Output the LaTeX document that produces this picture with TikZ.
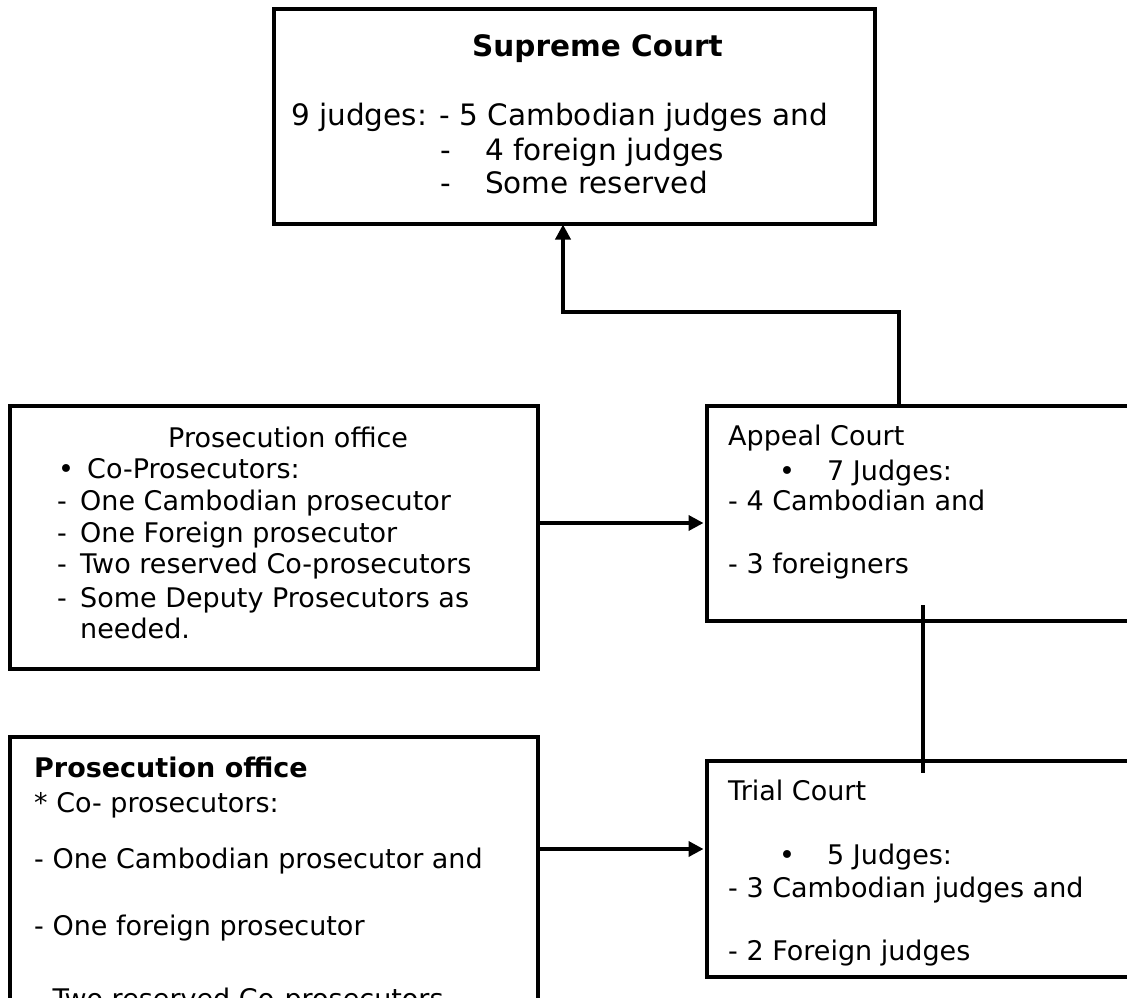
\documentclass[tikz,border=0pt]{standalone}
\usepackage{fontspec}
\setmainfont{DejaVu Sans}
\usetikzlibrary{arrows.meta}
\begin{document}
\begin{tikzpicture}[x=1pt,y=-1pt,
  box/.style={draw=black,line width=4pt,fill=none,inner sep=0pt},
  conn/.style={draw=black,line width=3.6pt},
  arr/.style={conn,-{Triangle[length=15pt,width=15pt]}},
  txt/.style={anchor=base west,inner sep=0pt,font=\fontsize{27}{32}\selectfont},
  btxt/.style={txt,font=\fontsize{27}{32}\selectfont\bfseries},
  stxt/.style={txt,font=\fontsize{29.5}{34}\selectfont},
  sbtxt/.style={txt,font=\fontsize{29.5}{34}\selectfont\bfseries}]
\useasboundingbox (0,0) rectangle (1127,998);
\clip (0,0) rectangle (1127,998);
\fill[white] (0,0) rectangle (1127,998);
% boxes
\node[box,minimum width=601pt,minimum height=215pt] (supreme) at (574.5,116.5) {};
\node[box,minimum width=528pt,minimum height=263pt] (pros1) at (274,537.5) {};
\node[box,minimum width=453pt,minimum height=215pt] (appeal) at (933.5,513.5) {};
\node[box,minimum width=453pt,minimum height=216pt] (trial) at (933.5,869) {};
\node[box,minimum width=528pt,minimum height=293pt] (pros2) at (274,883.5) {};
% supreme text
\node[sbtxt] (s0) at (472,57) {Supreme Court};
\node[stxt] (s1) at (291,125) {9 judges: - 5 Cambodian judges and};
\node[stxt] (s2d) at (440,160) {-};
\node[stxt] (s2) at (485,160) {4 foreign judges};
\node[stxt] (s3d) at (440,193) {-};
\node[stxt] (s3) at (485,193) {Some reserved};
% prosecution 1
\node[txt] (p0) at (168,447) {Prosecution office};
\node[txt] (p1b) at (58,478) {•};
\node[txt] (p1) at (87,478) {Co-Prosecutors:};
\node[txt] (p2d) at (57,510) {-};
\node[txt] (p2) at (80,510) {One Cambodian prosecutor};
\node[txt] (p3d) at (57,542) {-};
\node[txt] (p3) at (80,542) {One Foreign prosecutor};
\node[txt] (p4d) at (57,573) {-};
\node[txt] (p4) at (80,573) {Two reserved Co-prosecutors};
\node[txt] (p5d) at (57,607) {-};
\node[txt] (p5) at (80,607) {Some Deputy Prosecutors as};
\node[txt] (p6) at (80,638) {needed.};
% appeal
\node[txt] (a0) at (728,445) {Appeal Court};
\node[txt] (a1b) at (779,480) {•};
\node[txt] (a1) at (827,480) {7 Judges:};
\node[txt] (a2) at (728,510) {- 4 Cambodian and};
\node[txt] (a3) at (728,573) {- 3 foreigners};
% trial
\node[txt] (t0) at (728,800) {Trial Court};
\node[txt] (t1b) at (779,864) {•};
\node[txt] (t1) at (827,864) {5 Judges:};
\node[txt] (t2) at (728,897) {- 3 Cambodian judges and};
\node[txt] (t3) at (728,960) {- 2 Foreign judges};
% prosecution 2
\node[btxt] (q0) at (34,777) {Prosecution office};
\node[txt] (q1) at (34,812) {* Co- prosecutors:};
\node[txt] (q2) at (34,868) {- One Cambodian prosecutor and};
\node[txt] (q3) at (34,935) {- One foreign prosecutor};
\node[txt] (q4) at (34,1008) {- Two reserved Co-prosecutors};
% connectors
\coordinate (bendA) at (899,312);
\coordinate (bendB) at (563,312);
\draw[arr] (appeal.north -| bendA) -- (bendA) -- (bendB) -- ([yshift=1.5pt]supreme.south -| bendB);
\coordinate (y1) at (600,523);
\draw[arr] (pros1.east |- y1) -- ([xshift=-1.5pt]appeal.west |- y1);
\coordinate (y2) at (600,849);
\draw[arr] (pros2.east |- y2) -- ([xshift=-1.5pt]trial.west |- y2);
\coordinate (v1) at (923,605);
\coordinate (v2) at (923,773);
\draw[conn] (v1) -- (v2);
\end{tikzpicture}
\end{document}
